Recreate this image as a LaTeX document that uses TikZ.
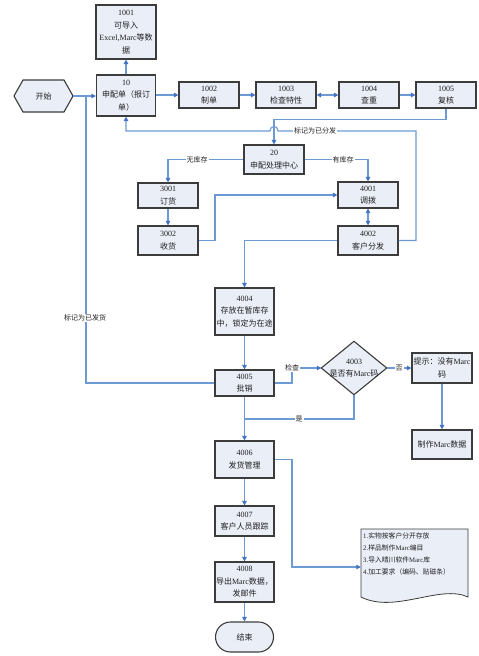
\documentclass[tikz,border=0pt]{standalone}
\usepackage{fontspec}
\setmainfont{Liberation Serif}
\newfontfamily\cjk{Noto Sans CJK SC}
\usetikzlibrary{arrows.meta,calc}
\definecolor{boxfill}{HTML}{E9EEF7}
\definecolor{boxline}{HTML}{3C3C3C}
\definecolor{conn}{HTML}{6E9AD4}
\definecolor{tipc}{HTML}{4472C4}
\definecolor{txt}{HTML}{202020}
\newcommand\z[1]{{\cjk #1}}
\begin{document}
\begin{tikzpicture}[x=1pt,y=-1pt,
 box/.style={draw=boxline,fill=boxfill,line width=1.1pt,inner sep=0.5pt,align=center,text=txt,font=\fontsize{8}{12.5}\selectfont},
 plain/.style={inner sep=0pt,align=center,text=txt,font=\fontsize{8}{12.5}\selectfont},
 ln/.style={draw=conn,line width=1.1pt},
 arr/.style={ln,-{Triangle[length=4.5pt,width=4.5pt,color=tipc]}},
 darr/.style={ln,{Triangle[length=4.5pt,width=4.5pt,color=tipc]}-{Triangle[length=4.5pt,width=4.5pt,color=tipc]}},
 lab/.style={fill=white,inner sep=1pt,text=txt,font=\fontsize{7}{8}\selectfont\cjk}]
\useasboundingbox (0,0) rectangle (479,656);
\fill[white] (0,0) rectangle (479,656);

% start hexagon
\draw[draw=boxline,fill=boxfill,line width=1.1pt] (14,96) -- (23,80) -- (64,80) -- (73,96) -- (64,112) -- (23,112) -- cycle;
\node[plain,minimum width=59pt,minimum height=32pt] (start) at (43.5,96) {\z{开始}};

\node[box,minimum width=60pt,minimum height=54pt] (n1001) at (126,32) {1001\\\z{可导入}\\Excel,Marc\z{等数}\\\z{据}};
\node[box,minimum width=59pt,minimum height=41pt] (n10) at (126,95.5) {10\\\z{申配单（报订}\\\z{单）}};
\node[box,minimum width=60pt,minimum height=26pt] (n1002) at (209,95) {1002\\\z{制单}};
\node[box,minimum width=60pt,minimum height=26pt] (n1003) at (286,95) {1003\\\z{检查特性}};
\node[box,minimum width=60pt,minimum height=26pt] (n1004) at (369,95) {1004\\\z{查重}};
\node[box,minimum width=60pt,minimum height=26pt] (n1005) at (446,95) {1005\\\z{复核}};
\node[box,minimum width=60pt,minimum height=29pt] (n20) at (274,159.5) {20\\\z{申配处理中心}};
\node[box,minimum width=60pt,minimum height=25pt] (n3001) at (168,195.5) {3001\\\z{订货}};
\node[box,minimum width=60pt,minimum height=29pt] (n3002) at (168,240.5) {3002\\\z{收货}};
\node[box,minimum width=60pt,minimum height=26pt] (n4001) at (368,195) {4001\\\z{调拨}};
\node[box,minimum width=60pt,minimum height=29pt] (n4002) at (368,240.5) {4002\\\z{客户分发}};
\node[box,minimum width=59pt,minimum height=47pt] (n4004) at (244.5,311.5) {4004\\\z{存放在暂库存}\\\z{中，锁定为在途}};
\node[box,minimum width=59pt,minimum height=26pt] (n4005) at (244.5,383) {4005\\\z{批销}};

% diamond 4003
\node[plain,minimum width=65pt,minimum height=53pt] (dia) at (354,368) {};
\draw[draw=boxline,fill=boxfill,line width=1.1pt] (dia.west) -- (dia.north) -- (dia.east) -- (dia.south) -- cycle;
\node[plain] at (dia.center) {4003\\\z{是否有}Marc\z{码}};

\node[box,minimum width=60pt,minimum height=30pt] (tip) at (442,368) {\z{提示：没有}Marc\\\z{码}};
\node[box,minimum width=60pt,minimum height=29pt] (make) at (442,444.5) {\z{制作}Marc\z{数据}};
\node[box,minimum width=59pt,minimum height=37pt] (n4006) at (244.5,459.5) {4006\\\z{发货管理}};
\node[box,minimum width=59pt,minimum height=30pt] (n4007) at (244.5,521) {4007\\\z{客户人员跟踪}};
\node[box,minimum width=59pt,minimum height=40pt] (n4008) at (244.5,582) {4008\\\z{导出}Marc\z{数据，}\\\z{发邮件}};
\node[box,rounded corners=15pt,minimum width=58pt,minimum height=30pt] (end) at (244.5,637) {\z{结束}};

% note (document shape)
\node[inner sep=0,minimum width=107pt,minimum height=68pt] (note) at (414.5,563) {};
\draw[draw=boxline,fill=boxfill,line width=0.8pt] (361,529) -- (468,529) -- (468,597) .. controls (440,584) and (395,614) .. (361,597) -- cycle;
\node[anchor=north west,align=left,inner sep=0,text=txt,font=\fontsize{6.8}{11.8}\selectfont] (notetxt) at (363,533) {1.\z{实物按客户分开存放}\\2.\z{样品制作}Marc\z{编目}\\3.\z{导入晴川软件}Marc\z{库}\\4.\z{加工要求（编码、贴磁条）}};

% connectors
\draw[arr] (start.east) -- (n10.west |- start.east);
\draw[arr] (n10.north) -- (n10.north |- n1001.south);
\draw[arr] (n10.east |- n1002) -- (n1002.west);
\draw[arr] (n1002) -- (n1003);
\draw[darr] (n1003) -- (n1004);
\draw[arr] (n1004) -- (n1005);
\draw[arr] (n1005.south) -- ++(0,11) -| (n20.north);
\draw[arr] (n4002.east) -| (416,131) -- (278,131) .. controls (278,125) and (270,125) .. (270,131) -- (n10.south |- 0,131) -- (n10.south);
\node[lab] at (315,131) {标记为已分发};
\draw[arr] (n20.west) -| (n3001.north);
\node[lab] at (197,159.5) {无库存};
\draw[arr] (n20.east) -| (n4001.north);
\node[lab] at (343,159.5) {有库存};
\draw[arr] (n3001) -- (n3002);
\draw[arr] (n3002.east) -- (215,240.5) |- (n4001.west);
\draw[darr] (n4001) -- (n4002);
\draw[arr] (n4002.west) -| (n4004.north);
\draw[arr] (n4004) -- (n4005);
\draw[ln] (n4005.west) -| (86,96);
\node[lab] at (85,318) {标记为已发货};
\draw[arr] (n4005.east) -- (292,383) |- (dia.west);
\node[lab] at (292,368) {检查};
\draw[arr] (dia.east) -- (tip.west);
\node[lab] at (399,368) {否};
\draw[arr] (tip) -- (make);
\draw[ln] (dia.south) |- (n4005.south |- 0,419);
\node[lab] at (299,419) {是};
\draw[arr] (n4005) -- (n4006);
\draw[arr] (n4006.east) -- (292,459.5) |- ($(note.west)+(0,4)$);
\draw[arr] (n4006) -- (n4007);
\draw[arr] (n4007) -- (n4008);
\draw[arr] (n4008) -- (end);
\end{tikzpicture}
\end{document}
